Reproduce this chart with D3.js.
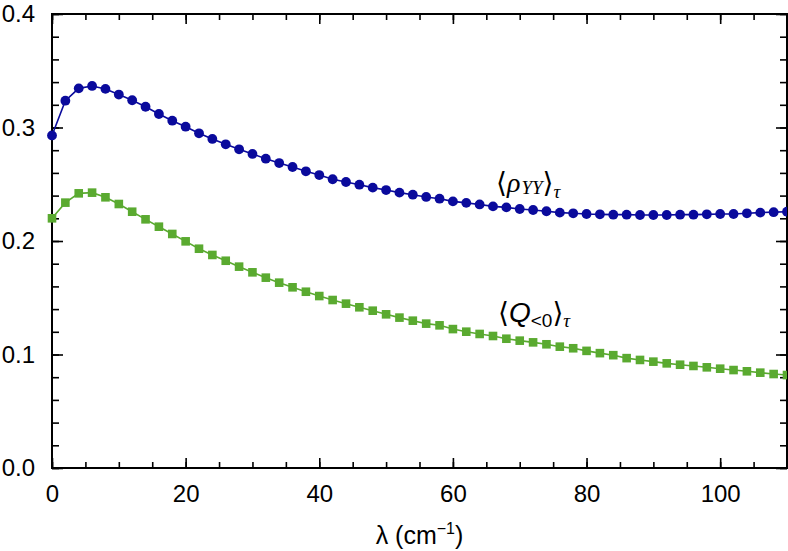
<!DOCTYPE html>
<html>
<head>
<meta charset="utf-8">
<script src="https://cdn.jsdelivr.net/npm/d3@7"></script>
<style>
  body { margin: 0; background: #fff; }
  svg { display: block; }
  .tick text { font-family: "Liberation Sans", Arial, sans-serif; }
</style>
</head>
<body>
<figure id="chart" style="margin:0"></figure>
<script>
// lambda sampled every 2 cm^-1
const lambda = d3.range(0, 111, 2);

const rhoYY = [
  0.293, 0.3236, 0.3345, 0.3366, 0.334, 0.329, 0.324, 0.3183, 0.3119, 0.306,
  0.3007, 0.2949, 0.2899, 0.2852, 0.2808, 0.2767, 0.2725, 0.2687, 0.2652, 0.2614,
  0.2581, 0.2544, 0.252, 0.2496, 0.247, 0.2449, 0.2426, 0.2408, 0.2388, 0.2373,
  0.2349, 0.2336, 0.2322, 0.2305, 0.2296, 0.2282, 0.2273, 0.2262, 0.225, 0.2244,
  0.2238, 0.2235, 0.2232, 0.2232, 0.2229, 0.2229, 0.2229, 0.2232, 0.2232, 0.2235,
  0.2238, 0.2238, 0.2244, 0.225, 0.2254, 0.2258
];

const qNeg = [
  0.22, 0.2338, 0.242, 0.2426, 0.2385, 0.2326, 0.2258, 0.2191, 0.2126, 0.2062,
  0.1997, 0.1932, 0.1877, 0.1826, 0.1774, 0.1724, 0.1677, 0.1633, 0.1592, 0.1553,
  0.1515, 0.148, 0.1448, 0.1416, 0.1386, 0.1354, 0.1325, 0.1298, 0.1272, 0.1257,
  0.1224, 0.1201, 0.1181, 0.1163, 0.1139, 0.1122, 0.1107, 0.109, 0.1069, 0.1055,
  0.1032, 0.1012, 0.0994, 0.0968, 0.0952, 0.0937, 0.0922, 0.091, 0.0899, 0.0887,
  0.0875, 0.0863, 0.0852, 0.084, 0.0828, 0.0819
];

const xMajor = [0, 20, 40, 60, 80, 100];
const xMinor = d3.range(0, 111, 5);
const yMajor = [0.0, 0.1, 0.2, 0.3, 0.4];
const yMinor = d3.range(0, 0.401, 0.02);

const W = 788, H = 551;
const margin = { top: 14, right: 1, bottom: 83, left: 52 };
const width = W - margin.left - margin.right;
const height = H - margin.top - margin.bottom;

const blue = "#0a0a9c";
const green = "#5aaa30";

const svg = d3.select("figure#chart")
  .append("svg")
  .attr("width", W)
  .attr("height", H)
  .append("g")
  .attr("transform", "translate(" + margin.left + "," + margin.top + ")");

const x = d3.scaleLinear().domain([0, 110]).range([0, width]);
const y = d3.scaleLinear().domain([0, 0.4]).range([height, 0]);

function styleAxis(g) {
  g.select(".domain").remove();
  g.selectAll("line").attr("stroke", "#000").attr("stroke-width", 1.6);
  g.selectAll("text").style("font-size", "24px").attr("fill", "#000");
}

// minor ticks on all sides
svg.append("g").attr("transform", `translate(0,${height})`)
  .call(d3.axisBottom(x).tickValues(xMinor).tickSize(-6).tickFormat(""))
  .call(styleAxis);
svg.append("g")
  .call(d3.axisTop(x).tickValues(xMinor).tickSize(-6).tickFormat(""))
  .call(styleAxis);
svg.append("g")
  .call(d3.axisLeft(y).tickValues(yMinor).tickSize(-7).tickFormat(""))
  .call(styleAxis);
svg.append("g").attr("transform", `translate(${width},0)`)
  .call(d3.axisRight(y).tickValues(yMinor).tickSize(-7).tickFormat(""))
  .call(styleAxis);

// major ticks with labels
svg.append("g").attr("transform", `translate(0,${height})`)
  .call(d3.axisBottom(x).tickValues(xMajor).tickSize(-10).tickPadding(17).tickFormat(d3.format("d")))
  .call(styleAxis);
svg.append("g")
  .call(d3.axisTop(x).tickValues(xMajor).tickSize(-10).tickFormat(""))
  .call(styleAxis);
svg.append("g")
  .call(d3.axisLeft(y).tickValues(yMajor).tickSize(-11).tickPadding(17).tickFormat(d3.format(".1f")))
  .call(styleAxis);
svg.append("g").attr("transform", `translate(${width},0)`)
  .call(d3.axisRight(y).tickValues(yMajor).tickSize(-11).tickFormat(""))
  .call(styleAxis);

// frame
svg.append("rect")
  .attr("width", width)
  .attr("height", height)
  .attr("fill", "none")
  .attr("stroke", "#000")
  .attr("stroke-width", 2);

svg.append("clipPath").attr("id", "clip")
  .append("rect").attr("x", -6).attr("y", -6).attr("width", width + 6).attr("height", height + 12);

const plot = svg.append("g").attr("clip-path", "url(#clip)");

const line = d3.line().x(d => x(d[0])).y(d => y(d[1]));

const qData = lambda.map((l, i) => [l, qNeg[i]]);
const rData = lambda.map((l, i) => [l, rhoYY[i]]);

plot.append("path").datum(qData)
  .attr("d", line).attr("fill", "none").attr("stroke", green).attr("stroke-width", 1.6);
plot.selectAll("rect.q").data(qData).enter().append("rect")
  .attr("class", "q")
  .attr("x", d => x(d[0]) - 4.3)
  .attr("y", d => y(d[1]) - 4.3)
  .attr("width", 8.6)
  .attr("height", 8.6)
  .attr("fill", green);

plot.append("path").datum(rData)
  .attr("d", line).attr("fill", "none").attr("stroke", blue).attr("stroke-width", 1.6);
plot.selectAll("circle.r").data(rData).enter().append("circle")
  .attr("class", "r")
  .attr("cx", d => x(d[0]))
  .attr("cy", d => y(d[1]))
  .attr("r", 4.9)
  .attr("fill", blue);

// series labels
const serif = '"Liberation Serif", "DejaVu Serif", serif';
const sans = '"Liberation Sans", Arial, sans-serif';

const rl = svg.append("text")
  .attr("x", 496 - margin.left)
  .attr("y", 192 - margin.top)
  .style("font-family", serif)
  .style("font-size", "28px")
  .attr("fill", "#000");
rl.append("tspan").text("\u27E8");
rl.append("tspan").style("font-style", "italic").text("\u03C1");
rl.append("tspan").style("font-style", "italic").style("font-size", "19px").attr("dx", 1).attr("dy", 2).text("YY");
rl.append("tspan").attr("dy", -2).text("\u27E9");
rl.append("tspan").style("font-style", "italic").style("font-size", "19px").attr("dy", 6).text("\u03C4");

const ql = svg.append("text")
  .attr("x", 498 - margin.left)
  .attr("y", 322 - margin.top)
  .style("font-size", "28px")
  .attr("fill", "#000");
ql.append("tspan").style("font-family", serif).text("\u27E8");
ql.append("tspan").style("font-family", sans).style("font-style", "italic").text("Q");
ql.append("tspan").style("font-family", sans).style("font-size", "19px").attr("dy", 5).text("<0");
ql.append("tspan").style("font-family", serif).attr("dy", -5).text("\u27E9");
ql.append("tspan").style("font-family", serif).style("font-style", "italic").style("font-size", "19px").attr("dy", 5).text("\u03C4");

// axis title
const xt = svg.append("text")
  .attr("x", width / 2)
  .attr("y", 544 - margin.top)
  .attr("text-anchor", "middle")
  .style("font-family", sans)
  .style("font-size", "25px")
  .attr("fill", "#000");
xt.append("tspan").text("\u03BB (cm");
xt.append("tspan").style("font-size", "16px").attr("dy", -10).text("\u22121");
xt.append("tspan").attr("dy", 10).text(")");
</script>
</body>
</html>
